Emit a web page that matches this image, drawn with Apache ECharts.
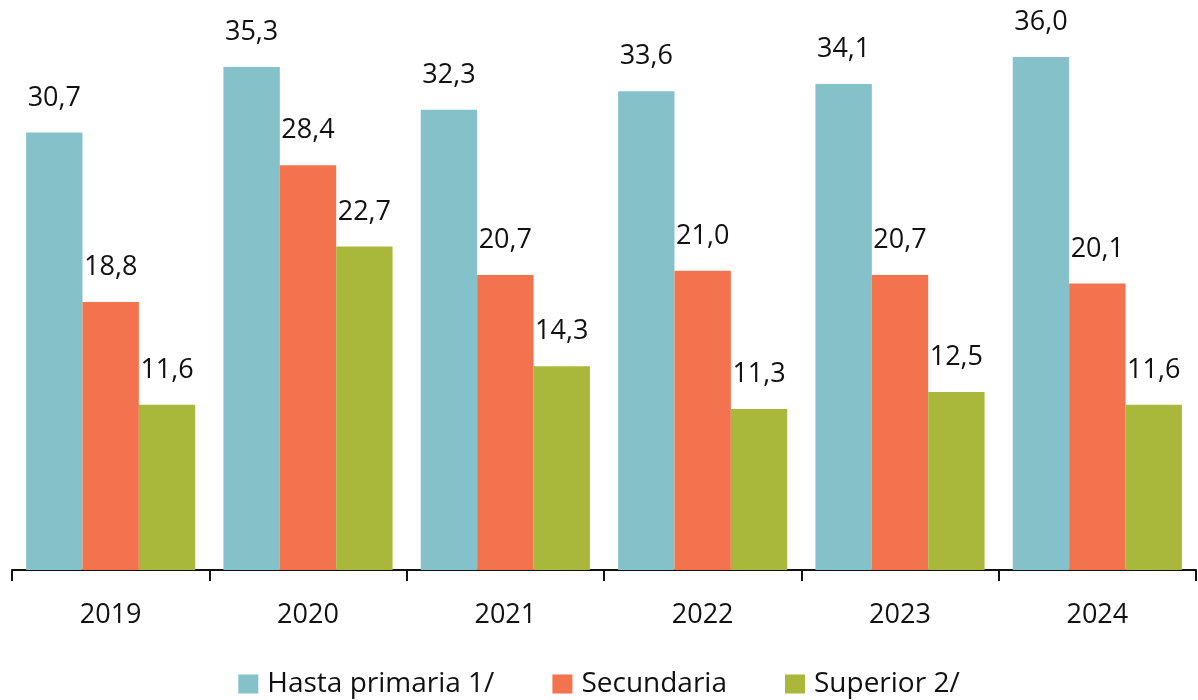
<!DOCTYPE html>
<html><head><meta charset="utf-8">
<script src="https://cdn.jsdelivr.net/npm/echarts@6/dist/echarts.min.js"></script>
<style>html,body{margin:0;padding:0;background:#fff}#c{width:1198px;height:700px}</style>
</head><body><div id="c"></div>
<script>
const categories = ['2019','2020','2021','2022','2023','2024'];
const seriesNames = ['Hasta primaria 1/','Secundaria','Superior 2/'];
const primaria = [30.7, 35.3, 32.3, 33.6, 34.1, 36.0];
const secundaria = [18.8, 28.4, 20.7, 21.0, 20.7, 20.1];
const superior = [11.6, 22.7, 14.3, 11.3, 12.5, 11.6];
const colors = ['#85C1C8','#F4734F','#A9B83B'];
const FONT = 'Open Sans';
const chart = echarts.init(document.getElementById('c'));
const fmt = p => p.value.toFixed(1).replace('.', ',');
function mk(name, data, color){
  return {name, type:'bar', data, barGap:'0%', barCategoryGap:'14.3%',
    itemStyle:{color},
    label:{show:true, position:'top', distance:21, formatter:fmt, color:'#111', fontSize:27, fontFamily:FONT}};
}
chart.setOption({
  animation:false,
  grid:{left:12, right:2, top:0, bottom:130},
  xAxis:{type:'category', data:categories,
    axisLine:{lineStyle:{color:'#111', width:2}},
    axisTick:{show:true, length:11, lineStyle:{color:'#111', width:2}},
    axisLabel:{color:'#111', fontSize:27, fontFamily:FONT, margin:32}},
  yAxis:{type:'value', min:0, max:40, show:false, splitLine:{show:false}},
  legend:{bottom:-3, left:'center', itemWidth:20, itemHeight:19, itemGap:58,
    icon:'rect', textStyle:{color:'#111', fontSize:28, fontFamily:FONT, padding:[0,0,0,4]}, data:seriesNames},
  series:[mk(seriesNames[0], primaria, colors[0]), mk(seriesNames[1], secundaria, colors[1]), mk(seriesNames[2], superior, colors[2])]
});
</script></body></html>
